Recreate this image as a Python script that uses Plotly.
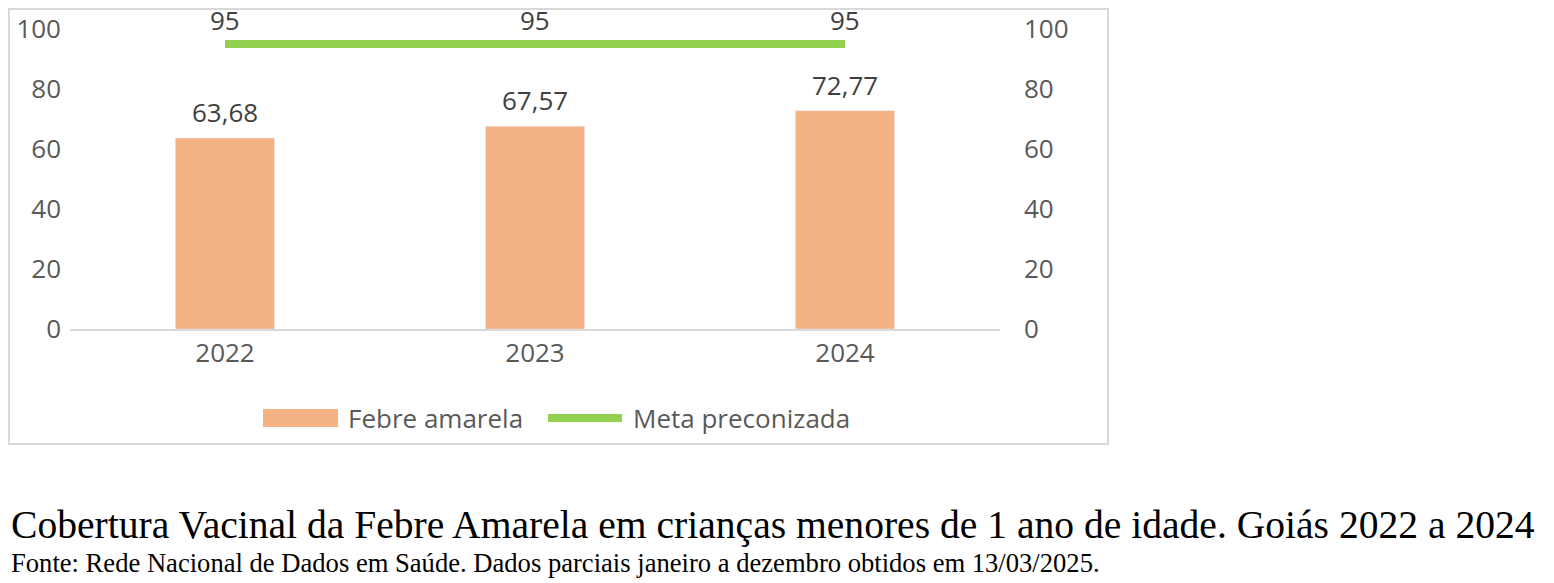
import plotly.graph_objects as go

# Data
anos = ["2022", "2023", "2024"]
cobertura = [63.68, 67.57, 72.77]
meta = [95, 95, 95]
serie_nomes = ["Febre amarela", "Meta preconizada"]

W, H = 1554, 583
OFF = 8  # page offset of the plot div
L, T = 62, 21
pw, ph = 930, 300
R = W - L - pw
B = H - T - ph


def px_x(x):
    return (x - OFF - L) / pw


def px_y(y):
    return (H - B - (y - OFF)) / ph


def fmt(v):
    return f"{v:.2f}".replace(".", ",")


fig = go.Figure()

fig.add_trace(go.Bar(
    x=anos, y=cobertura,
    name=serie_nomes[0],
    marker=dict(color="#F4B183"),
    width=0.32,
    showlegend=False,
))

fig.add_trace(go.Scatter(
    x=anos, y=meta,
    name=serie_nomes[1],
    mode="lines",
    line=dict(color="#92D050", width=8),
    showlegend=False,
))

# invisible trace to carry the right-hand axis
fig.add_trace(go.Scatter(
    x=anos, y=cobertura, yaxis="y2", mode="markers",
    marker=dict(opacity=0), showlegend=False, hoverinfo="skip",
))

# data labels (category axis: annotation x is the category index)
for i, v in enumerate(cobertura):
    fig.add_annotation(x=i, y=v, text=fmt(v), showarrow=False,
                       yanchor="bottom", yshift=6,
                       font=dict(family="Open Sans", size=26, color="#404040"))
for i, v in enumerate(meta):
    fig.add_annotation(x=i, y=v, text=str(v), showarrow=False,
                       yanchor="middle", yshift=24, borderpad=0,
                       font=dict(family="Open Sans", size=26, color="#404040"))

tickfont = dict(family="Open Sans", size=26, color="#595959")

fig.update_layout(
    width=W, height=H,
    margin=dict(l=L, r=R, t=T, b=B, autoexpand=False),
    paper_bgcolor="white",
    plot_bgcolor="white",
    font=dict(family="Open Sans", color="#595959"),
    showlegend=False,
    xaxis=dict(
        type="category", automargin=False, range=[-0.5, len(anos) - 0.5],
        showgrid=False, zeroline=False,
        showline=True, linecolor="#D9D9D9", linewidth=2,
        tickfont=tickfont, ticks="", ticklabelstandoff=0,
    ),
    yaxis=dict(
        range=[0, 100], tickvals=[0, 20, 40, 60, 80, 100], automargin=False,
        showgrid=False, zeroline=False, showline=False,
        tickfont=tickfont, ticklabelstandoff=8,
    ),
    yaxis2=dict(
        range=[0, 100], tickvals=[0, 20, 40, 60, 80, 100], automargin=False,
        overlaying="y", side="right",
        showgrid=False, zeroline=False, showline=False,
        tickfont=tickfont, ticklabelstandoff=23,
    ),
)

# chart border
fig.add_shape(
    type="rect", xref="paper", yref="paper",
    x0=px_x(9), x1=px_x(1108), y0=px_y(444), y1=px_y(9),
    line=dict(color="#D9D9D9", width=2), fillcolor="rgba(0,0,0,0)",
    layer="below",
)

# legend (drawn by hand to get the wide Excel-style keys)
fig.add_shape(
    type="rect", xref="paper", yref="paper",
    x0=px_x(263), x1=px_x(338), y0=px_y(427), y1=px_y(409),
    line=dict(width=0), fillcolor="#F4B183",
)
fig.add_shape(
    type="line", xref="paper", yref="paper",
    x0=px_x(548), x1=px_x(622), y0=px_y(418), y1=px_y(418),
    line=dict(color="#92D050", width=8),
)
fig.add_annotation(
    text=serie_nomes[0], xref="paper", yref="paper",
    x=px_x(346), y=px_y(418), xanchor="left", yanchor="middle",
    showarrow=False, font=dict(family="Open Sans", size=26, color="#595959"),
)
fig.add_annotation(
    text=serie_nomes[1], xref="paper", yref="paper",
    x=px_x(631), y=px_y(418), xanchor="left", yanchor="middle",
    showarrow=False, font=dict(family="Open Sans", size=26, color="#595959"),
)

fig.add_annotation(
    text="Cobertura Vacinal da Febre Amarela em crianças menores de 1 ano de idade. Goiás 2022 a 2024",
    xref="paper", yref="paper", x=px_x(9), y=px_y(525),
    xanchor="left", yanchor="middle", showarrow=False,
    font=dict(family="Liberation Serif", size=39.6, color="black"),
)
fig.add_annotation(
    text="Fonte: Rede Nacional de Dados em Saúde. Dados parciais janeiro a dezembro obtidos em 13/03/2025.",
    xref="paper", yref="paper", x=px_x(9), y=px_y(563),
    xanchor="left", yanchor="middle", showarrow=False,
    font=dict(family="Liberation Serif", size=26.6, color="black"),
)

fig.write_html("out.html")
